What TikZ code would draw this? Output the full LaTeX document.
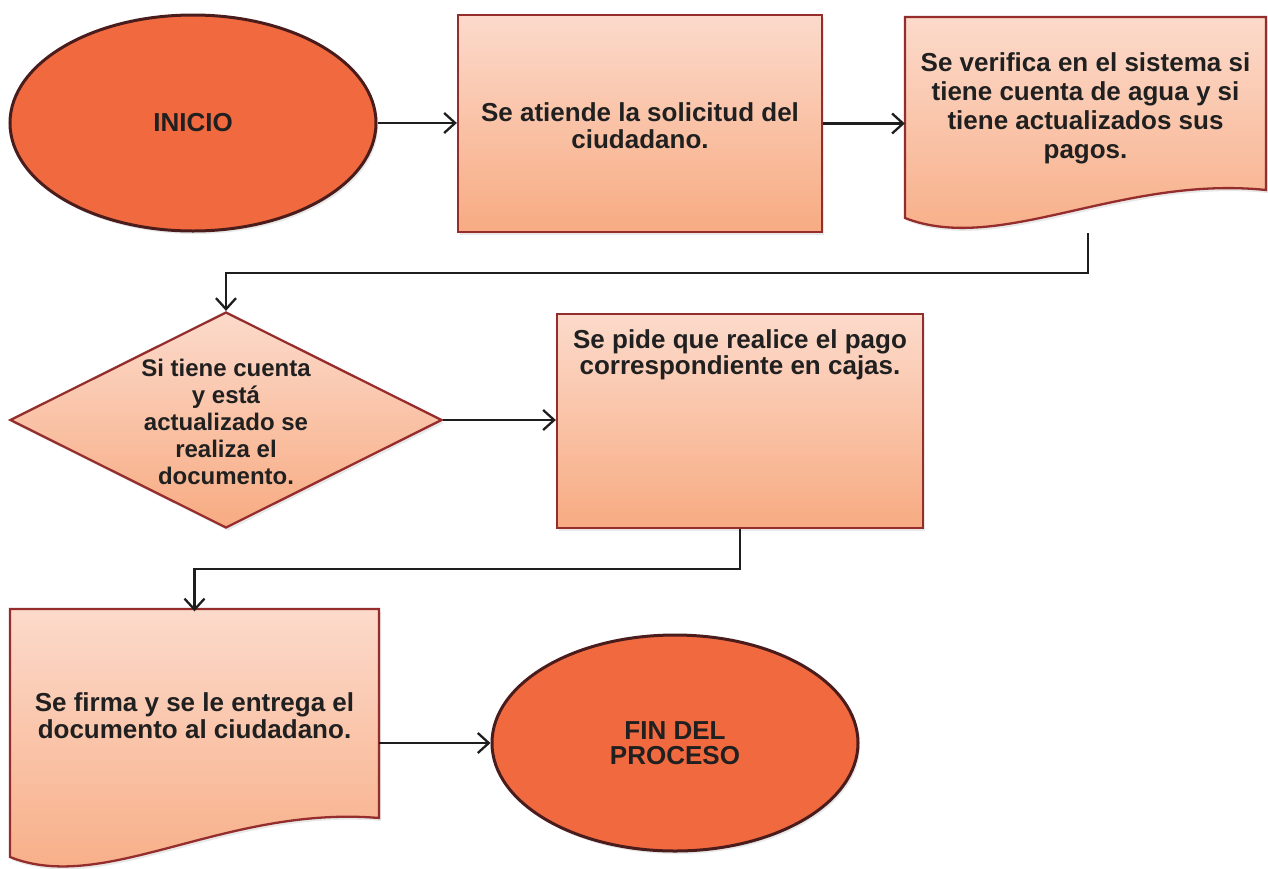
\documentclass[tikz,border=0pt]{standalone}
\usepackage{fontspec}
\setmainfont{Liberation Sans}
\usetikzlibrary{shapes.geometric,arrows.meta,shadows,calc}
\definecolor{ovalfill}{HTML}{F1693F}
\definecolor{ovaledge}{HTML}{4A1C1C}
\definecolor{boxedge}{HTML}{962D2D}
\definecolor{boxtop}{HTML}{FCDACB}
\definecolor{boxbot}{HTML}{F7AB82}
\definecolor{ink}{HTML}{202020}
\definecolor{lineink}{HTML}{1E1E1E}
\begin{document}
\begin{tikzpicture}[x=1pt,y=-1pt,
 every node/.style={font=\bfseries\fontsize{26}{27}\selectfont, text=ink},
 oval/.style={ellipse, draw=ovaledge, line width=3pt, fill=ovalfill, minimum width=366pt, minimum height=216pt, inner sep=0pt, align=center, shad},
 procbox/.style={rectangle, draw=boxedge, line width=2.3pt, top color=boxtop, bottom color=boxbot, inner sep=0pt, shad},
 procpath/.style={draw=boxedge, line width=2.3pt, top color=boxtop, bottom color=boxbot, shad},
 txt/.style={align=center, inner sep=0pt},
 arr/.style={draw=lineink, line width=2.3pt, -{Straight Barb[length=11pt,width=20pt]}},
 shad/.style={drop shadow={opacity=0.18, shadow xshift=2pt, shadow yshift=-3pt}},
]
\useasboundingbox (0,0) rectangle (1268,868);
\fill[white] (0,0) rectangle (1268,868);

% document shapes (outlines)
\path[procpath] (905,17) -- (1266,17) -- (1266,190) .. controls (1120,175) and (1000,255) .. (905,218) -- cycle;
\path[procpath] (10,609) -- (379,609) -- (379,818) .. controls (225,805) and (105,895) .. (10,857) -- cycle;

% nodes
\node[oval] (inicio) at (193,123) {INICIO};
\node[procbox, minimum width=364pt, minimum height=217pt] (box1) at (640,123.5) {};
\node[txt] (box1t) at (640,126) {Se atiende la solicitud del\\ciudadano.};
\node[txt, minimum width=361pt, minimum height=173pt, font=\bfseries\fontsize{26}{29}\selectfont] (doc1) at (1085.5,108) {Se verifica en el sistema si\\tiene cuenta de agua y si\\tiene actualizados sus\\pagos.};
\node[diamond, draw=boxedge, line width=2.3pt, top color=boxtop, bottom color=boxbot, minimum width=432pt, minimum height=216pt, inner sep=0pt, shad] (dia) at (226,420) {};
\node[txt, font=\bfseries\fontsize{24}{27}\selectfont] (diat) at (226,422) {Si tiene cuenta\\y está\\actualizado se\\realiza el\\documento.};
\node[procbox, minimum width=366pt, minimum height=214pt] (box2) at (740,421) {};
\node[txt, font=\bfseries\fontsize{26}{26}\selectfont] (box2t) at (740,355) {Se pide que realice el pago\\correspondiente en cajas.};
\node[txt, minimum width=369pt, minimum height=209pt] (doc3) at (194.5,716) {Se firma y se le entrega el\\documento al ciudadano.};
\node[oval, font=\bfseries\fontsize{26}{25}\selectfont] (fin) at (675,743) {FIN DEL\\PROCESO};

% connectors
\coordinate (d1out) at (1088,233);
\draw[arr] (inicio.east) -- (inicio.east -| box1.west);
\draw[arr] (box1.east) -- (box1.east -| doc1.west);
\draw[arr] (d1out) -- ++(0,40) -| (dia.north);
\draw[arr] (dia.east) -- (dia.east -| box2.west);
\draw[arr] (box2.south) -- ++(0,40) -| (doc3.north);
\draw[arr] (doc3.east |- fin.west) -- (fin.west);
\end{tikzpicture}
\end{document}
